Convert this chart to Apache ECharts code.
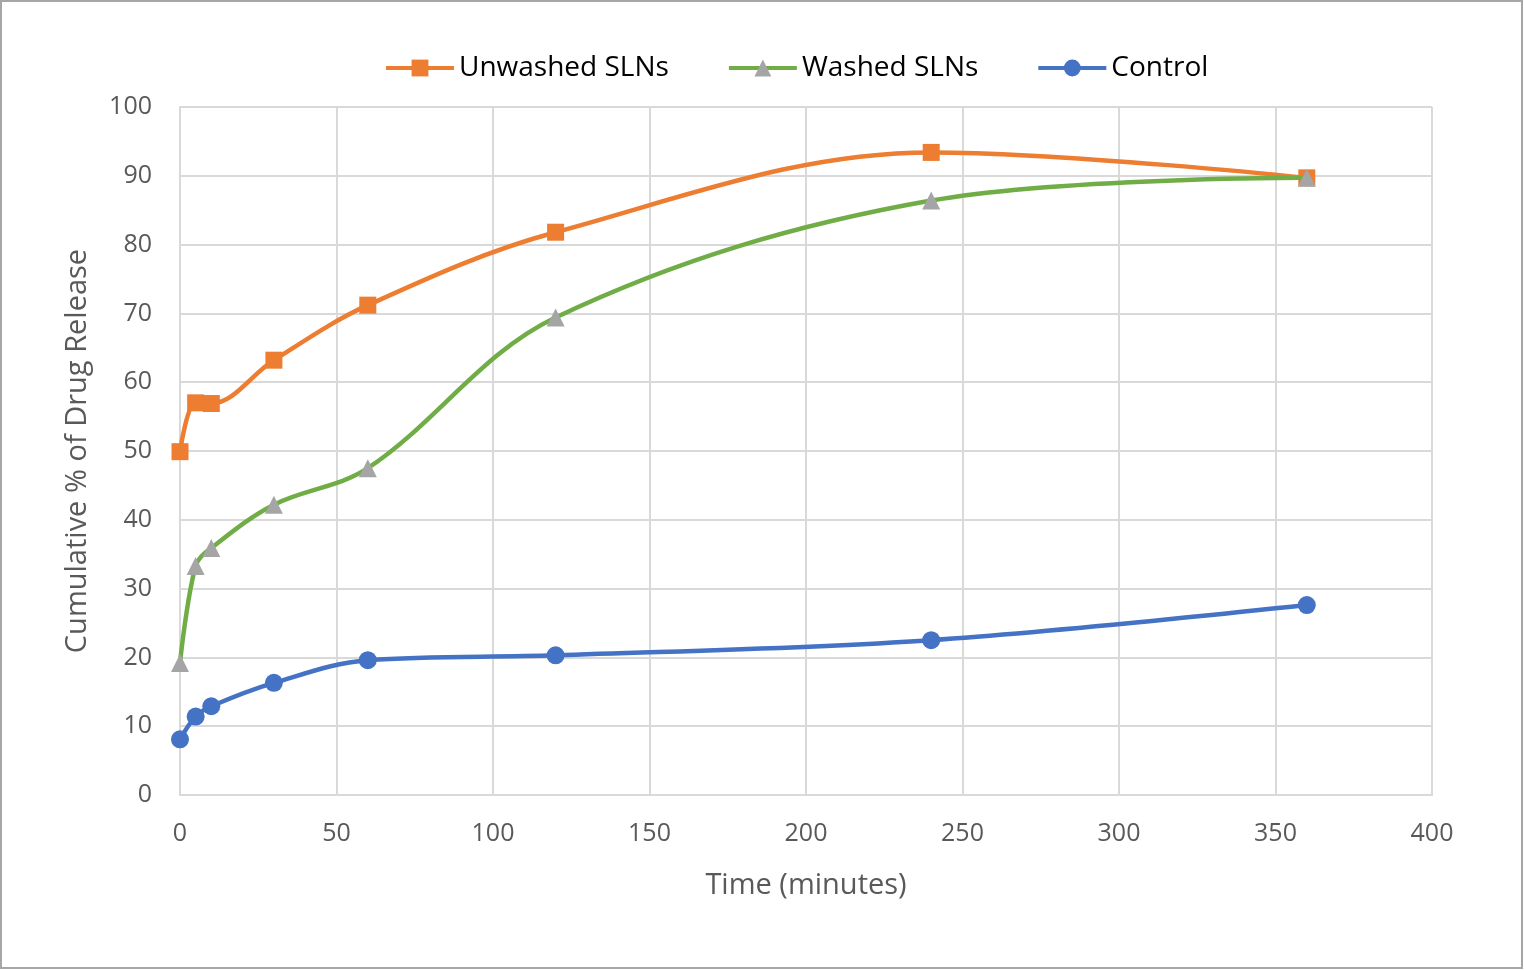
<!DOCTYPE html>
<html>
<head>
<meta charset="utf-8">
<script src="https://cdn.jsdelivr.net/npm/echarts@6/dist/echarts.min.js"></script>
<style>
  html, body { margin: 0; padding: 0; background: #fff; }
  #chart { width: 1524px; height: 971px; }
</style>
</head>
<body>
<div id="chart"></div>
<script>
// time points (minutes)
const times = [0, 5, 10, 30, 60, 120, 240, 360];

// cumulative % of drug release
const unwashed = [49.9, 57.0, 56.9, 63.2, 71.2, 81.8, 93.4, 89.7];
const washed = [19.2, 33.3, 35.9, 42.2, 47.5, 69.4, 86.4, 89.7];
const control = [8.1, 11.4, 12.9, 16.3, 19.6, 20.3, 22.5, 27.6];

const seriesNames = ['Unwashed SLNs', 'Washed SLNs', 'Control'];

const pairs = (ys) => times.map((t, i) => [t, ys[i]]);

const chart = echarts.init(document.getElementById('chart'));

const fontFamily = '"Open Sans", "Noto Sans", sans-serif';

const option = {
    animation: false,
    textStyle: { fontFamily: fontFamily },
    graphic: [
        {
            type: 'rect',
            shape: { x: 1, y: 1, width: 1521, height: 967 },
            style: { fill: 'none', stroke: '#a6a6a6', lineWidth: 2 },
            silent: true
        }
    ],
    legend: {
        data: seriesNames,
        top: 49,
        left: 379,
        itemWidth: 68,
        itemHeight: 21,
        itemGap: 58,
        lineStyle: { width: 4 },
        textStyle: {
            fontSize: 28,
            color: '#000',
            fontFamily: fontFamily
        }
    },
    grid: {
        left: 180,
        right: 92,
        top: 107,
        bottom: 176
    },
    xAxis: {
        type: 'value',
        min: 0,
        max: 400,
        interval: 50,
        name: 'Time (minutes)',
        nameLocation: 'middle',
        nameGap: 76,
        nameTextStyle: { fontSize: 29, color: '#595959' },
        axisLine: { show: true, lineStyle: { color: '#d9d9d9', width: 2 } },
        axisTick: { show: false },
        axisLabel: { fontSize: 25, color: '#595959', margin: 26 },
        splitLine: { show: true, lineStyle: { color: '#d9d9d9', width: 2 } }
    },
    yAxis: {
        type: 'value',
        min: 0,
        max: 100,
        interval: 10,
        name: 'Cumulative % of Drug Release',
        nameLocation: 'middle',
        nameGap: 88,
        nameTextStyle: { fontSize: 29, color: '#595959' },
        axisLine: { show: true, lineStyle: { color: '#d9d9d9', width: 2 } },
        axisTick: { show: false },
        axisLabel: { fontSize: 25, color: '#595959', margin: 28 },
        splitLine: { show: true, lineStyle: { color: '#d9d9d9', width: 2 } }
    },
    series: [
        {
            name: 'Unwashed SLNs',
            type: 'line',
            data: pairs(unwashed),
            smooth: 0.35,
            symbol: 'rect',
            symbolSize: 17,
            lineStyle: { color: '#ed7d31', width: 4.5 },
            itemStyle: { color: '#ed7d31' },
            z: 2
        },
        {
            name: 'Washed SLNs',
            type: 'line',
            data: pairs(washed),
            smooth: 0.35,
            symbol: 'triangle',
            symbolSize: 18,
            lineStyle: { color: '#70ad47', width: 4.5 },
            itemStyle: { color: '#a5a5a5' },
            z: 3
        },
        {
            name: 'Control',
            type: 'line',
            data: pairs(control),
            smooth: 0.35,
            symbol: 'circle',
            symbolSize: 18,
            lineStyle: { color: '#4472c4', width: 4.5 },
            itemStyle: { color: '#4472c4' },
            z: 4
        }
    ]
};

chart.setOption(option);
window.addEventListener('resize', () => chart.resize());
</script>
</body>
</html>
